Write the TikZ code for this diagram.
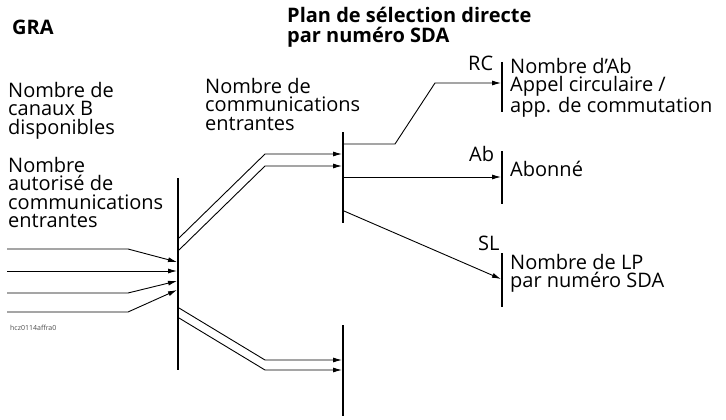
\documentclass[tikz,border=0pt]{standalone}
\usepackage{fontspec}
\setmainfont{Open Sans}
\usetikzlibrary{arrows.meta}
\begin{document}
\begin{tikzpicture}[x=1pt,y=-1pt,
  bar/.style={line width=1.6pt},
  ln/.style={line width=0.9pt},
  ar/.style={ln,-{Latex[length=9pt,width=5pt]}},
  txt/.style={anchor=north west,inner sep=0pt,align=left,font=\fontsize{20}{18.5}\selectfont},
  bt/.style={anchor=north west,inner sep=0pt,align=left,font=\fontsize{20}{19.5}\selectfont\bfseries}]
\useasboundingbox (0,0) rectangle (726,420);
\node[bt] (gra) at (12,20) {GRA};
\node[bt] (title) at (287,7) {Plan de sélection directe\\par numéro SDA};
\node[txt] (t1) at (8,82) {Nombre de\\canaux B\\disponibles};
\node[txt] (t2) at (8,157) {Nombre\\autorisé de\\communications\\entrantes};
\node[txt] (t3) at (205,78) {Nombre de\\communications\\entrantes};
\node[anchor=west,inner sep=0pt,font=\fontsize{7}{8}\selectfont,text=black!70] (h) at (10,328) {hcz0114affra0};
% bars
\coordinate (b1t) at (178,178); \coordinate (b1b) at (178,370);
\draw[bar] (b1t) -- (b1b);
\coordinate (b2t) at (343,132); \coordinate (b2b) at (343,223);
\draw[bar] (b2t) -- (b2b);
\coordinate (b3t) at (343,325); \coordinate (b3b) at (343,416);
\draw[bar] (b3t) -- (b3b);
\coordinate (b4t) at (502,62); \coordinate (b4b) at (502,112);
\draw[bar] (b4t) -- (b4b);
\coordinate (b5t) at (502,151); \coordinate (b5b) at (502,204);
\draw[bar] (b5t) -- (b5b);
\coordinate (b6t) at (502,253); \coordinate (b6b) at (502,307);
\draw[bar] (b6t) -- (b6b);
% incoming
\draw[ar] (7,249) -- (128,249) -- (177,262);
\draw[ar] (7,271) -- (177,271);
\draw[ar] (7,293) -- (128,293) -- (177,281);
\draw[ar] (7,312) -- (128,312) -- (177,290);
% to bar2
\draw[ar] (179,238) -- (265,154) -- (342,154);
\draw[ar] (179,250) -- (265,166) -- (342,166);
\draw[ar] (179,308) -- (265,360) -- (342,360);
\draw[ar] (179,318) -- (265,370) -- (342,370);
% outgoing
\draw[ar] (344,144) -- (395,144) -- (435,83) -- (501,83);
\draw[ar] (344,177) -- (501,177);
\draw[ar] (344,211) -- (501,279);
\node[txt] (rc) at (468,56) {RC};
\node[txt] (ab) at (469,146) {Ab};
\node[txt] (sl) at (478,236) {SL};
\node[txt] (r1) at (510,58) {Nombre d'Ab\\Appel circulaire /\\app. de commutation};
\node[txt] (r2) at (510,161) {Abonné};
\node[txt] (r3) at (510,254) {Nombre de LP\\par numéro SDA};
\end{tikzpicture}
\end{document}
